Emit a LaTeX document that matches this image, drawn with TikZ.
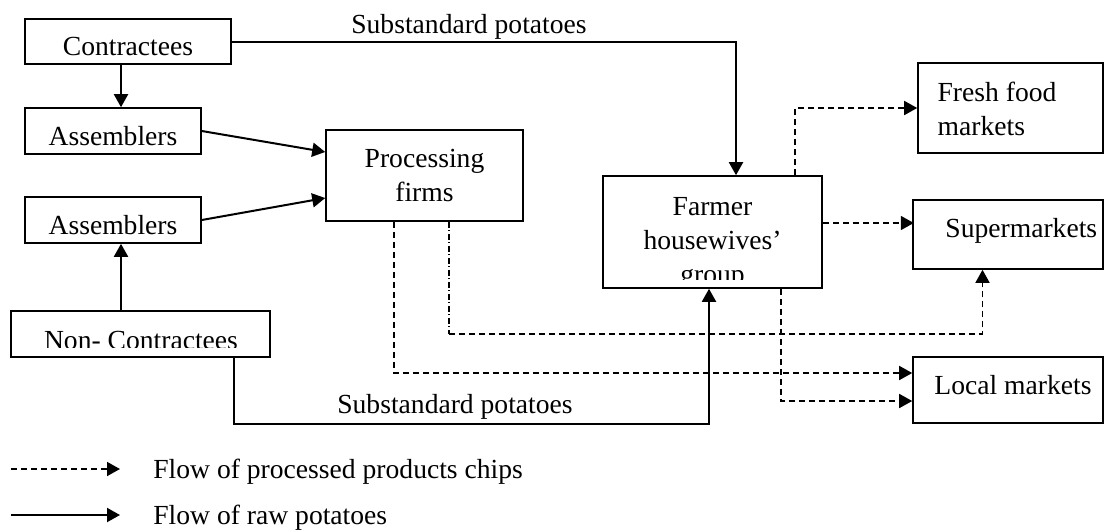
\documentclass[tikz,border=0pt]{standalone}
\usepackage{fontspec}
\setmainfont{Liberation Serif}
\usetikzlibrary{positioning,arrows.meta}

\tikzset{
  box/.style={draw, line width=0.8pt, inner sep=0pt},
  single/.style={text height=14pt, text depth=0pt},
  txt/.style={inner sep=0pt},
  raw/.style={line width=1pt, -{Triangle[length=6.5pt,width=7pt]}},
  chips/.style={line width=0.8pt, dash pattern=on 3pt off 2pt, -{Triangle[length=6.5pt,width=7pt]}},
}

\begin{document}
\begin{tikzpicture}[x=0.5pt, y=-0.5pt, font=\fontsize{13.8}{17}\selectfont]
\useasboundingbox (0,0) rectangle (1111,531);

\node[box, single, minimum width=103pt, minimum height=22.5pt] (contr) at (128,41.5) {Contractees};
\node[box, single, minimum width=88pt, minimum height=23pt] (ass1) at (113,131) {Assemblers};
\node[box, single, minimum width=88pt, minimum height=23pt] (ass2) at (113,220) {Assemblers};
\node[box, minimum width=129.5pt, minimum height=23pt] (noncon) at (140.5,334) {};
\node[box, align=center, minimum width=98.5pt, minimum height=45.5pt] (proc) at (424.5,175.5) {Processing\\firms};
\node[box, minimum width=109.5pt, minimum height=56pt] (farm) at (712.5,232) {};
\node[box, minimum width=92.5pt, minimum height=45pt] (fresh) at (1010.5,108) {};
\node[box, minimum width=95pt, minimum height=34.5pt] (super) at (1008,234.5) {};
\node[box, minimum width=95pt, minimum height=33pt] (local) at (1008,390) {};

\node[txt, align=left, anchor=west] (fresh-t) at ([xshift=10pt,yshift=-0.3pt]fresh.west) {Fresh food\\markets};
\node[txt, anchor=base west] (super-t) at (945,237) {Supermarkets};
\node[txt, anchor=base west] (local-t) at (934,394) {Local markets};

% text boxes cut off at the bottom
\begin{scope}
  \clip (noncon.north west) rectangle ([yshift=5pt]noncon.south east);
  \node[txt, anchor=base] (noncon-t) at (141,349) {Non- Contractees};
\end{scope}
\begin{scope}
  \clip (farm.north west) rectangle ([yshift=4.5pt]farm.south east);
  \node[txt, align=center, anchor=north] (farm-t) at (712.5,197) {Farmer\\housewives'\\group};
\end{scope}

% raw potatoes
\draw[raw] ([xshift=-3.5pt]contr.south) -- ([xshift=-3.5pt]contr.south |- ass1.north);
\draw[raw] (ass1.east) -- ([yshift=11.75pt]proc.west);
\draw[raw] (ass2.east) -- ([yshift=-11.25pt]proc.west);
\draw[raw] ([xshift=-9.75pt]noncon.north) -- ([xshift=-9.75pt]noncon.north |- ass2.south);
\draw[raw] (contr.east) -| ([xshift=11.75pt]farm.north);
\draw[raw] ([xshift=46.75pt]noncon.south) -- ++(0,66) -| ([xshift=-1.75pt]farm.south);
\node[txt, anchor=base] (sub-top) at (469,33) {Substandard potatoes};
\node[txt, anchor=base] (sub-low) at (455,413) {Substandard potatoes};

% chips
\draw[chips] ([xshift=-15.25pt]proc.south) |- ([yshift=8.5pt]local.west);
\draw[line width=0.8pt, dash pattern=on 3pt off 1.2pt on 0.6pt off 1.2pt]
  ([xshift=12.25pt]proc.south) -- ++(0,112) coordinate (turn);
\draw[chips] (turn) -| ([xshift=-12.75pt]super.south);
\draw[chips] ([xshift=34.25pt]farm.south) |- ([yshift=-5.5pt]local.west);
\draw[chips] ([yshift=4.5pt]farm.east) -- ++(91,0);
\draw[chips] ([xshift=41.25pt]farm.north) |- (fresh.west);

% key
\coordinate (k1) at (11,469);
\coordinate (k2) at (120,469);
\coordinate (k3) at (11,515);
\coordinate (k4) at (120,515);
\draw[chips] (k1) -- (k2);
\draw[raw] (k3) -- (k4);
\node[txt, right=16.5pt of k2, yshift=-1.5pt] (key-chips) {Flow of processed products chips};
\node[txt, right=16.5pt of k4, yshift=-1.5pt] (key-raw) {Flow of raw potatoes};
\end{tikzpicture}
\end{document}
